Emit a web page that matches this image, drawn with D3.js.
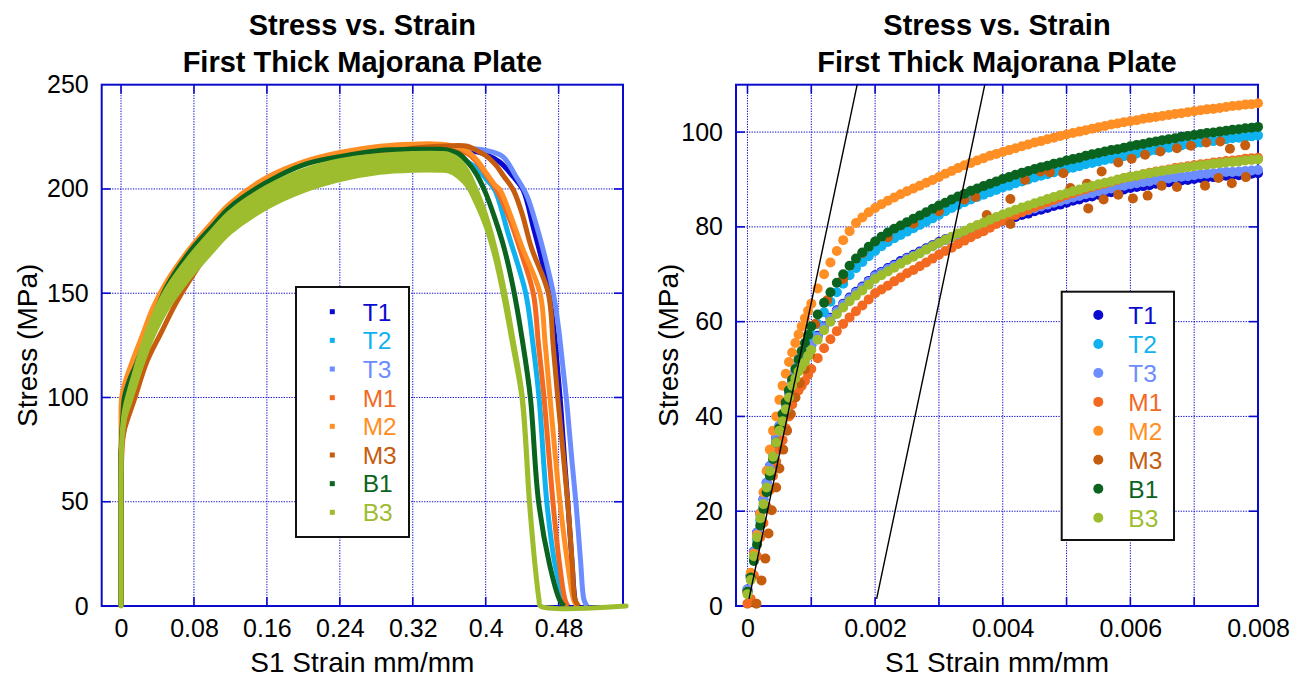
<!DOCTYPE html>
<html>
<head>
<meta charset="utf-8">
<title>Stress vs. Strain - First Thick Majorana Plate</title>
<script src="https://cdn.jsdelivr.net/npm/d3@7/dist/d3.min.js"></script>
<style>
  body { margin: 0; background: #fff; }
  svg text { font-family: "Liberation Sans", Arial, Helvetica, sans-serif; }
</style>
</head>
<body>
<svg id="chart" width="1302" height="677"></svg>
<script>
// legend order = drawing order
var seriesNames  = ["T1","T2","T3","M1","M2","M3","B1","B3"];
var seriesColors = ["#0a0ad0","#0fb2ee","#6b8dff","#f2691f","#ff8f24","#c65c0e","#0b6320","#9dbd2f"];

// ---------- left panel : whole test (strain mm/mm, stress MPa) ----------
var T1Strain = [0,0,0,0.001,0.005,0.012,0.023,0.04,0.06,0.08,0.1,0.12,0.16,0.2,0.24,0.28,0.32,0.36,0.38,0.4,0.415,0.43,0.441,0.452,0.4615,0.4695,0.4745,0.479,0.4825,0.4865,0.4905,0.4945,0.498,0.5];
var T1Stress = [0,30,60,80,95,106,119,138,154,165,176,185,197,205,211,215,217.5,219,218.5,216.5,213,206,199.5,182,166,150,134,113,95,70,47,22,3,0];
var T2Strain = [0,0,0,0.0008,0.004,0.01,0.018,0.03,0.05,0.0757,0.1,0.12,0.16,0.2,0.24,0.28,0.32,0.36,0.38,0.39,0.4,0.41,0.425,0.4439,0.452,0.4585,0.467,0.476,0.486,0.49];
var T2Stress = [0,30,60,80,97,106,115,128,152,168,180,189,201,208,213,216,218,218.5,213,210,205,199.5,178,150,125,100,50,20,3,0];
var T3Strain = [0,0,0,0.001,0.005,0.012,0.023,0.04,0.06,0.08,0.1,0.12,0.16,0.2,0.24,0.28,0.32,0.36,0.38,0.4,0.4186,0.4332,0.445,0.456,0.4658,0.4742,0.4797,0.4851,0.4895,0.4945,0.4995,0.504,0.5078,0.511];
var T3Stress = [0,30,60,80,95,106,119,138,154,165,176,185,197,205,211,215,218,219.5,219.5,218.5,215.6,206,197,182,166,150,134,113,95,70,47,22,3,0];
var M1Strain = [0,0,0,0.002,0.007,0.014,0.025,0.04,0.06,0.08,0.1,0.12,0.16,0.2,0.24,0.28,0.32,0.36,0.38,0.39,0.4,0.412,0.425,0.44,0.4522,0.458,0.464,0.4737,0.481,0.487,0.49];
var M1Stress = [0,30,60,80,95,106,119,136,152,164,175,184,196,204,210,214.5,217.5,219,217,213,207,199.5,187,168,150,125,100,50,20,3,0];
var M2Strain = [0,0,0,0,0.0007,0.005,0.0117,0.0227,0.035,0.05,0.0757,0.1,0.1195,0.16,0.2,0.24,0.284,0.32,0.35,0.36,0.38,0.39,0.4,0.41,0.4157,0.425,0.44,0.4596,0.465,0.4705,0.4814,0.49,0.4965,0.5];
var M2Stress = [0,30,60,85,100,108,116.5,129,143,155.5,171.5,184,193,205.5,213,217.5,220.5,221.5,221.5,221,218,214,208,202,199.5,190,172,150,127,100,50,20,3,0];
var M3Strain = [0,0,0,0,0.004,0.0154,0.0282,0.0439,0.06,0.075,0.1,0.1195,0.16,0.2,0.24,0.284,0.32,0.35,0.38,0.39,0.4,0.41,0.42,0.4303,0.44,0.45,0.4687,0.474,0.479,0.4899,0.495,0.498,0.502];
var M3Stress = [0,30,60,75,85,100,117,131,145,156,172,181,195,205,212,217,219.5,220.5,220.5,218.5,216,212,206,199.5,188,172,150,125,100,50,20,3,0];
var B1Strain = [0,0,0,0,0.0005,0.002,0.0037,0.009,0.0168,0.0278,0.04,0.05,0.0757,0.1,0.1195,0.16,0.2,0.24,0.284,0.32,0.35,0.36,0.37,0.38,0.39,0.4,0.41,0.42,0.43,0.44,0.449,0.458,0.47,0.481,0.486];
var B1Stress = [0,20,40,60,80,91,100,108,116,129,143,153,170,182,191.2,203.2,211.6,215.5,218.5,219,219,218.5,217,213,207,198,186,172,153,128,100,50,20,3,0];
var B3Strain = [0,0,0,0,0.001,0.004,0.009,0.016,0.023,0.035,0.05,0.0757,0.1,0.1195,0.16,0.2,0.24,0.284,0.32,0.35,0.36,0.37,0.38,0.39,0.4,0.41,0.42,0.43,0.44,0.448,0.454,0.4585,0.46,0.554];
var B3Stress = [0,20,40,60,80,92,100,110,120,134,147,162.7,175,184,196,204,209,212,213,213,212.5,210,205,196,185,170,150,126,100,50,20,3,0,0];
// B3 scatter is much wider than the others: half band width (MPa)
var B3Spread = [0,0,0,0,1,2,3,3.5,4,4.5,4.8,4.8,4.8,4.8,4.8,4.8,4.5,4,4,4,4,4,3.5,3,2.5,2,2,1.5,1,0.5,0,0,0,0];

var fullXTicks = [0,0.08,0.16,0.24,0.32,0.4,0.48];
var fullYTicks = [0,50,100,150,200,250];

// ---------- right panel : elastic region (strain in 1e-3 mm/mm, stress MPa) ----------
var zoomStrainMs = [0,0.05,0.1,0.15,0.2,0.25,0.3,0.35,0.4,0.45,0.5,0.55,0.6,0.65,0.7,0.75,0.8,0.85,0.9,0.95,1,
  1.1,1.2,1.3,1.4,1.5,1.6,1.7,1.8,1.9,2,2.1,2.2,2.3,2.4,2.5,2.6,2.7,2.8,2.9,3,
  3.1,3.2,3.3,3.4,3.5,3.6,3.7,3.8,3.9,4,4.1,4.2,4.3,4.4,4.5,4.6,4.7,4.8,4.9,5,
  5.1,5.2,5.3,5.4,5.5,5.6,5.7,5.8,5.9,6,6.1,6.2,6.3,6.4,6.5,6.6,6.7,6.8,6.9,7,
  7.1,7.2,7.3,7.4,7.5,7.6,7.7,7.8,7.9,8];
var zT1 = [3.5,6.5,11.5,15.5,19.5,22.5,26,29.5,32.5,35.5,38,40,42.5,45,47.5,49,50.5,51.5,52.5,53.8,55,
  57,59,60.8,62.4,63.8,65.1,66.3,67.4,68.6,69.8,70.5,71.3,72,72.8,73.5,74.1,74.8,75.5,76.1,76.8,
  77.4,77.8,78.4,78.8,79.3,79.7,80.1,80.5,80.9,81.3,81.7,82.1,82.5,82.8,83.3,83.6,84,84.4,84.7,85.1,
  85.5,85.8,86.2,86.4,86.8,87.1,87.3,87.7,87.9,88.2,88.4,88.6,88.8,89.1,89.3,89.4,89.6,89.8,89.9,90.1,
  90.3,90.4,90.5,90.6,90.8,90.9,90.9,91.1,91.2,91.3];
var zT2 = [3,6,10,14,18,21,24.5,28,31.5,34.5,37.5,40,42.5,45,47.3,49.3,51.2,52.8,54.3,55.8,57.3,
  59.5,62,64.2,66.2,68,69.8,71.3,72.6,73.8,74.9,75.9,76.8,77.6,78.3,79,79.7,80.4,81.1,81.8,82.5,
  83.3,84,84.6,85.2,85.8,86.3,86.8,87.3,87.8,88.3,88.7,89.2,89.6,90,90.4,90.8,91.1,91.5,91.8,92.2,
  92.5,92.8,93.2,93.5,93.8,94.1,94.4,94.6,94.9,95.2,95.5,95.7,96,96.2,96.5,96.7,96.9,97.2,97.4,97.6,
  97.8,98,98.1,98.3,98.5,98.7,98.8,99,99.1,99.3];
var zT3 = [3.5,6.5,11.5,15.5,19.5,22.5,26,29.5,32.5,35.5,38,40,42.5,45,47.5,49,50.5,51.5,52.5,53.8,55,
  56.8,58.8,60.6,62.2,63.6,64.9,66.1,67.2,68.4,69.6,70.3,71.1,71.8,72.5,73.3,73.9,74.6,75.3,75.9,76.6,
  77.2,77.8,78.4,78.9,79.4,79.9,80.3,80.8,81.4,81.8,82.3,82.7,83.1,83.5,83.9,84.3,84.7,85.1,85.4,85.8,
  86.2,86.5,86.9,87.1,87.5,87.8,88.1,88.4,88.7,89,89.2,89.4,89.6,89.9,90,90.2,90.4,90.6,90.7,90.9,
  91.1,91.2,91.3,91.4,91.6,91.6,91.7,91.8,91.9,92];
var zM1 = [0.5,1.5,6.5,10.5,14.5,17.5,21,24.5,27.5,30.5,33,35,37.5,40,42.5,44,45.5,46.5,47.5,48.8,50,
  52.3,54.4,56.3,58,59.5,60.9,62.2,63.4,64.7,66,66.8,67.6,68.5,69.3,70.2,70.9,71.7,72.5,73.3,74.1,
  74.9,75.6,76.4,77.1,77.8,78.5,79.1,79.8,80.6,81.3,81.9,82.5,83.1,83.6,84.2,84.7,85.2,85.7,86.2,86.7,
  87.1,87.6,88,88.4,88.8,89.1,89.5,89.9,90.3,90.6,90.8,91.1,91.4,91.7,91.9,92.1,92.4,92.6,92.8,93,
  93.2,93.3,93.6,93.7,93.9,94,94.1,94.4,94.5,94.6];
var zM2 = [3,7,11,15,19.5,24,28.5,33,37,40,43.5,46.5,49,51.5,53.5,55.5,57.3,59,60.7,62.3,63.8,
  67,70,72.5,74.9,77.2,79.1,80.8,82,83.1,84,84.8,85.5,86.2,86.9,87.5,88.1,88.7,89.3,89.9,90.5,
  91.2,91.8,92.4,93,93.5,94,94.5,95,95.4,95.8,96.2,96.6,97,97.4,97.8,98.1,98.5,98.8,99.2,99.5,
  99.8,100.1,100.4,100.7,101,101.3,101.6,101.8,102.1,102.3,102.5,102.8,103,103.2,103.4,103.6,103.8,104,104.2,104.4,
  104.6,104.8,104.9,105.1,105.3,105.5,105.6,105.8,105.9,106.1];
var zB1 = [3,6,9.5,13,17,20.5,24,27.5,31,34.5,37.5,40.5,43,45.5,47.8,50,52,53.8,55.5,57.2,59,
  61.5,64,66.2,68.2,70,71.8,73.3,74.6,75.8,76.9,77.9,78.8,79.6,80.3,81,81.7,82.4,83.1,83.8,84.5,
  85.1,85.8,86.4,87,87.6,88.1,88.6,89.1,89.6,90.1,90.5,91,91.4,91.8,92.2,92.6,92.9,93.3,93.6,94,
  94.3,94.6,95,95.3,95.6,95.9,96.2,96.4,96.7,97,97.3,97.5,97.8,98,98.3,98.5,98.7,99,99.2,99.4,
  99.6,99.8,99.9,100.1,100.3,100.5,100.6,100.8,100.9,101.1];
var zB3 = [2.5,5.5,10.5,14.5,18.5,21.5,25,28.5,31.5,34.5,37,39,41.5,44,46.5,48,49.5,50.5,51.5,52.8,54,
  56.2,58.2,60,61.6,63,64.3,65.5,66.6,67.8,69,69.8,70.6,71.4,72.2,73,73.7,74.4,75.2,75.9,76.6,
  77.3,77.9,78.6,79.2,79.8,80.4,80.9,81.5,82.1,82.6,83.1,83.6,84.1,84.5,85,85.4,85.9,86.3,86.7,87.1,
  87.5,87.9,88.3,88.6,89,89.3,89.6,90,90.3,90.6,90.8,91.1,91.3,91.6,91.8,92,92.2,92.4,92.6,92.8,
  93,93.1,93.3,93.4,93.6,93.7,93.8,94,94.1,94.2];
// M3 is scattered (jumps between two levels), so it keeps its own strain values
var zM3StrainMs = [0.14,0.22,0.28,0.33,0.38,0.45,0.5,0.56,0.62,0.68,0.75,0.82,0.9,0.98,1.06,1.25,1.5,1.8,2.2,2.6,
  3,3.4,3.57,3.75,4.12,4.12,4.35,4.59,4.74,4.95,5.06,5.32,5.34,5.55,5.58,5.81,5.81,6.02,6.04,6.23,
  6.27,6.47,6.49,6.73,6.73,6.95,7.17,7.19,7.38,7.41,7.56,7.59,7.8,7.81];
var zM3 = [0.5,5.4,10,15.3,20.2,25,29,33,37,40.5,44,47,50,53,59.5,64.5,69,74.5,77.8,80.7,
  83.3,85.8,86.3,82.5,85.9,80.6,89.9,91.7,91.5,91.3,88.2,89.1,83.9,91.7,85.8,93.6,86.8,94.4,86,95.2,
  86.6,95.9,88.7,96.6,88.4,97.1,88.7,97.8,90.3,98,96.5,89.2,97.2,90.5];

var zoomXTicks = [0,0.002,0.004,0.006,0.008];
var zoomXGrid  = [0,0.001,0.002,0.003,0.004,0.005,0.006,0.007,0.008];
var zoomYTicks = [0,20,40,60,80,100];

// elastic modulus line and 0.2% offset line
var modulusMPa = 64000;
var offsetStrains = [0,0.002];
var offsetLineStress = [1.5,110];

//Preparation
var svg = d3.select("#chart");
var axisBlue = "#0a0acd";

var leftX  = d3.scaleLinear().domain([-0.0212,0.5506]).range([101.7,623]);
var leftY  = d3.scaleLinear().domain([0,250]).range([606,84.7]);
var rightX = d3.scaleLinear().domain([-0.00018,0.008]).range([736,1258]);
var rightY = d3.scaleLinear().domain([0,110]).range([606,84.7]);

function drawPanel(x, y, xTicks, xGrid, yTicks, yTitleGap){
    var xa = x.range()[0], xb = x.range()[1], ya = y.range()[0], yb = y.range()[1];
    var g = svg.append("g");
    var vIn = xGrid.filter(function(d){ return x(d) > xa+2 && x(d) < xb-2; });
    var hIn = yTicks.filter(function(d){ return y(d) < ya-2 && y(d) > yb+2; });

    // dotted grid
    g.selectAll(".vgrid").data(vIn).join("line").attr("class","vgrid")
        .attr("x1", function(d){ return x(d); }).attr("x2", function(d){ return x(d); })
        .attr("y1", yb).attr("y2", ya)
        .attr("stroke", axisBlue).attr("stroke-width", 1).attr("stroke-dasharray", "1.3,1.3");
    g.selectAll(".hgrid").data(hIn).join("line").attr("class","hgrid")
        .attr("y1", function(d){ return y(d); }).attr("y2", function(d){ return y(d); })
        .attr("x1", xa).attr("x2", xb)
        .attr("stroke", axisBlue).attr("stroke-width", 1).attr("stroke-dasharray", "1.3,1.3");

    // small inner ticks on all four sides
    [ya, yb].forEach(function(edge){
        g.selectAll(null).data(vIn).join("line")
            .attr("x1", function(d){ return x(d); }).attr("x2", function(d){ return x(d); })
            .attr("y1", edge).attr("y2", edge === ya ? edge-9 : edge+9)
            .attr("stroke", axisBlue).attr("stroke-width", 1.6);
    });
    [xa, xb].forEach(function(edge){
        g.selectAll(null).data(hIn).join("line")
            .attr("y1", function(d){ return y(d); }).attr("y2", function(d){ return y(d); })
            .attr("x1", edge).attr("x2", edge === xa ? edge+9 : edge-9)
            .attr("stroke", axisBlue).attr("stroke-width", 1.6);
    });

    g.append("rect").attr("x", xa).attr("y", yb).attr("width", xb-xa).attr("height", ya-yb)
        .attr("fill", "none").attr("stroke", axisBlue).attr("stroke-width", 2);

    // tick labels
    var bx = g.append("g").attr("transform", "translate(0,"+ya+")")
        .call(d3.axisBottom(x).tickValues(xTicks).tickSize(0).tickPadding(13).tickFormat(function(d){ return String(d); }));
    bx.select(".domain").remove();
    bx.attr("font-size", 25).attr("font-family", null);
    var by = g.append("g").attr("transform", "translate("+xa+",0)")
        .call(d3.axisLeft(y).tickValues(yTicks).tickSize(0).tickPadding(13));
    by.select(".domain").remove();
    by.attr("font-size", 25).attr("font-family", null);

    // titles
    var cx = (xa+xb)/2;
    svg.append("text").attr("x", cx).attr("y", 35).attr("text-anchor", "middle")
        .attr("font-size", 29).attr("font-weight", "bold").text("Stress vs. Strain");
    svg.append("text").attr("x", cx).attr("y", 72).attr("text-anchor", "middle")
        .attr("font-size", 29).attr("font-weight", "bold").text("First Thick Majorana Plate");
    svg.append("text").attr("x", cx).attr("y", 672).attr("text-anchor", "middle")
        .attr("font-size", 28).text("S1 Strain mm/mm");
    svg.append("text").attr("transform", "translate("+(xa-yTitleGap)+","+((ya+yb)/2)+") rotate(-90)")
        .attr("text-anchor", "middle").attr("font-size", 28).text("Stress (MPa)");
}

function drawLegend(x0, y0, w, h, firstRow, rowStep, markX, textX, round){
    var g = svg.append("g");
    g.append("rect").attr("x", x0).attr("y", y0).attr("width", w).attr("height", h)
        .attr("fill", "#fff").attr("stroke", "#111").attr("stroke-width", 2);
    seriesNames.forEach(function(name, i){
        var cy = firstRow + i*rowStep;
        if(round){
            g.append("circle").attr("cx", markX).attr("cy", cy).attr("r", 5).attr("fill", seriesColors[i]);
        } else {
            g.append("rect").attr("x", markX-2.5).attr("y", cy-2.5).attr("width", 5).attr("height", 5).attr("fill", seriesColors[i]);
        }
        g.append("text").attr("x", textX).attr("y", cy).attr("dy", "0.36em")
            .attr("font-size", 24.5).attr("fill", seriesColors[i]).text(name);
    });
}

//Left panel
drawPanel(leftX, leftY, fullXTicks, fullXTicks, fullYTicks, 65);

var leftStrain = [T1Strain,T2Strain,T3Strain,M1Strain,M2Strain,M3Strain,B1Strain,B3Strain];
var leftStress = [T1Stress,T2Stress,T3Stress,M1Stress,M2Stress,M3Stress,B1Stress,B3Stress];

var smooth = d3.curveCatmullRom.alpha(0.5);
var fullLine = d3.line().curve(smooth)
    .x(function(d){ return leftX(d.s); })
    .y(function(d){ return leftY(d.v); });
var b3Band = d3.area().curve(smooth)
    .x(function(d){ return leftX(d.s); })
    .y0(function(d){ return leftY(d.v - d.w); })
    .y1(function(d){ return leftY(d.v + d.w); });

var leftG = svg.append("g");
seriesNames.forEach(function(name, i){
    var pts = leftStrain[i].map(function(s, k){
        return {s: s, v: leftStress[i][k], w: name === "B3" ? B3Spread[k] : 0};
    });
    leftG.append("path").datum(pts)
        .attr("d", name === "B3" ? b3Band : fullLine)
        .attr("fill", name === "B3" ? seriesColors[i] : "none")
        .attr("stroke", seriesColors[i]).attr("stroke-width", 5)
        .attr("stroke-linejoin", "round");
});

drawLegend(296, 287, 113, 250, 311.7, 28.66, 332.3, 362.7, false);

//Right panel
drawPanel(rightX, rightY, zoomXTicks, zoomXGrid, zoomYTicks, 58);

var zoomSeries = {T1: zT1, T2: zT2, T3: zT3, M1: zM1, M2: zM2, B1: zB1, B3: zB3};
var rightG = svg.append("g");
seriesNames.forEach(function(name, i){
    var pts;
    if(name === "M3"){
        pts = zM3StrainMs.map(function(ms, k){ return {s: ms/1000, v: zM3[k]}; });
    } else {
        pts = zoomStrainMs.map(function(ms, k){ return {s: ms/1000, v: zoomSeries[name][k]}; });
    }
    rightG.append("g").selectAll("circle").data(pts).join("circle")
        .attr("cx", function(d){ return rightX(d.s); })
        .attr("cy", function(d){ return rightY(d.v); })
        .attr("r", 5)
        .attr("fill", seriesColors[i]);
});

// modulus line through the origin and the 0.2% offset line
rightG.selectAll(".modline").data(offsetStrains).join("line").attr("class","modline")
    .attr("x1", function(d){ return rightX(d + offsetLineStress[0]/modulusMPa); })
    .attr("y1", rightY(offsetLineStress[0]))
    .attr("x2", function(d){ return rightX(d + offsetLineStress[1]/modulusMPa); })
    .attr("y2", rightY(offsetLineStress[1]))
    .attr("stroke", "#000").attr("stroke-width", 1.4);

drawLegend(1061.7, 291.7, 112.3, 248.3, 315, 28.96, 1098.3, 1128.3, true);
</script>
</body>
</html>
